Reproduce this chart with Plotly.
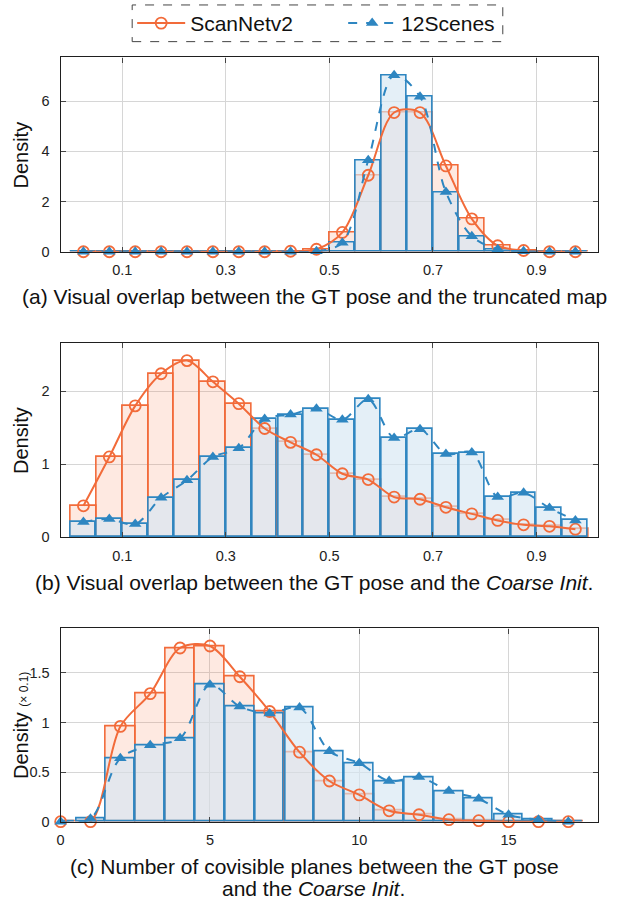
import plotly.graph_objects as go

# ---------------- data ----------------
bins_ab = [0.025, 0.075, 0.125, 0.175, 0.225, 0.275, 0.325, 0.375, 0.425, 0.475,
           0.525, 0.575, 0.625, 0.675, 0.725, 0.775, 0.825, 0.875, 0.925, 0.975]
scannet_a = [0, 0, 0, 0, 0, 0, 0, 0, 0.02, 0.10, 0.77, 3.05, 5.55, 5.55, 3.42, 1.31, 0.24, 0.05, 0, 0]
scenes_a = [0, 0, 0, 0, 0, 0, 0, 0, 0, 0.02, 0.36, 3.65, 7.04, 6.18, 2.38, 0.62, 0.10, 0.02, 0, 0]

scannet_b = [0.43, 1.10, 1.80, 2.24, 2.42, 2.13, 1.83, 1.49, 1.30, 1.13,
             0.87, 0.79, 0.55, 0.52, 0.41, 0.32, 0.23, 0.17, 0.15, 0.11]
scenes_b = [0.21, 0.25, 0.18, 0.54, 0.78, 1.10, 1.22, 1.62, 1.68, 1.76,
            1.61, 1.89, 1.36, 1.48, 1.14, 1.16, 0.55, 0.61, 0.40, 0.23]

bins_c = [0, 1, 2, 3, 4, 5, 6, 7, 8, 9, 10, 11, 12, 13, 14, 15, 16, 17]
scannet_c = [0, 0, 0.96, 1.29, 1.75, 1.77, 1.46, 1.11, 0.70, 0.41, 0.27, 0.11, 0.07, 0.02, 0.01, 0, 0, 0]
scenes_c = [0, 0.03, 0.64, 0.77, 0.84, 1.38, 1.16, 1.09, 1.15, 0.71, 0.59, 0.41, 0.45, 0.31, 0.23, 0.07, 0.02, 0]

xticks_ab = [0.1, 0.3, 0.5, 0.7, 0.9]
xticks_c = [0, 5, 10, 15]
yticks_a = [0, 2, 4, 6]
yticks_b = [0, 1, 2]
yticks_c = [0, 0.5, 1, 1.5]

captions = [
    "(a) Visual overlap between the GT pose and the truncated map",
    "(b) Visual overlap between the GT pose and the <i>Coarse Init</i>.",
    "(c) Number of covisible planes between the GT pose",
    "and the <i>Coarse Init</i>.",
]
names = ["ScanNetv2", "12Scenes"]

# ---------------- style ----------------
W, H = 624, 909
FONT = "Liberation Sans, Arial, sans-serif"
ORANGE = "#f26b3a"
BLUE = "#2e86c1"
ORANGE_FILL = "rgba(246,120,70,0.16)"
BLUE_FILL = "rgba(213,230,243,0.65)"

def px_x(p):
    return p / W

def px_y(p):
    return 1 - p / H

# plot area pixel boxes (left, right, top, bottom)
boxes = [(57, 598, 58, 254), (57, 598, 346, 542), (57, 598, 634, 829)]

fig = go.Figure()

panels = [
    (bins_ab, scannet_a, scenes_a, 0.05, 0.048),
    (bins_ab, scannet_b, scenes_b, 0.05, 0.048),
    (bins_c, scannet_c, scenes_c, 1.0, 0.96),
]

for i, (xs, s1, s2, w1, w2) in enumerate(panels):
    xa = "x" if i == 0 else f"x{i+1}"
    ya = "y" if i == 0 else f"y{i+1}"
    fig.add_trace(go.Bar(x=xs, y=s1, width=w1, xaxis=xa, yaxis=ya,
                         marker=dict(color=ORANGE_FILL, line=dict(color=ORANGE, width=1.6)),
                         showlegend=False, hoverinfo="skip"))
    fig.add_trace(go.Bar(x=xs, y=s2, width=w2, xaxis=xa, yaxis=ya,
                         marker=dict(color=BLUE_FILL, line=dict(color=BLUE, width=1.6)),
                         showlegend=False, hoverinfo="skip"))
    fig.add_trace(go.Scatter(x=xs, y=s1, xaxis=xa, yaxis=ya, mode="lines+markers",
                             name=names[0], showlegend=(i == 0), cliponaxis=False,
                             line=dict(color=ORANGE, width=2, shape="spline", smoothing=0.9),
                             marker=dict(symbol="circle-open", size=11, color=ORANGE,
                                         line=dict(width=1.8, color=ORANGE))))
    fig.add_trace(go.Scatter(x=xs, y=s2, xaxis=xa, yaxis=ya, mode="lines+markers",
                             name=names[1], showlegend=(i == 0), cliponaxis=False,
                             line=dict(color=BLUE, width=2, dash="dash", shape="spline", smoothing=0.9),
                             marker=dict(symbol="triangle-up", size=11, color=BLUE)))

ymaxes = [1.1 * max(scenes_a), 1.1 * max(scannet_b), 1.1 * max(scannet_c)]
xranges = [[-0.019, 1.019], [-0.019, 1.019], [0, 18]]
xtick_sets = [xticks_ab, xticks_ab, xticks_c]
ytick_sets = [yticks_a, yticks_b, yticks_c]

axis_common = dict(showgrid=True, gridcolor="#d6d6d6", gridwidth=1, zeroline=False,
                   showline=True, linecolor="#1f1f1f", linewidth=1.2, mirror="ticks",
                   ticks="inside", ticklen=5, tickcolor="#444", tickwidth=1,
                   tickfont=dict(family=FONT, size=14.5, color="#222"))

layout_axes = {}
for i, (l, r, t, b) in enumerate(boxes):
    sx = "" if i == 0 else str(i + 1)
    layout_axes[f"xaxis{sx}"] = dict(axis_common, domain=[px_x(l), px_x(r)], range=xranges[i],
                                     tickvals=xtick_sets[i], anchor=f"y{sx}", ticklabelstandoff=5)
    layout_axes[f"yaxis{sx}"] = dict(axis_common, domain=[px_y(b), px_y(t)], range=[0, ymaxes[i]],
                                     tickvals=ytick_sets[i], anchor=f"x{sx}", ticklabelstandoff=7)

annotations = []
# y-axis titles
for i, (l, r, t, b) in enumerate(boxes):
    txt = "Density" if i < 2 else "Density <span style='font-size:12px'>(× 0.1)</span>"
    annotations.append(dict(x=px_x(17), y=px_y((t + b) / 2), xref="paper", yref="paper",
                            text=txt, textangle=-90, showarrow=False, xanchor="center",
                            yanchor="middle", font=dict(family=FONT, size=20, color="#111")))
# captions
cap_pos = [(312, 299.5), (312, 588), (312, 874), (311, 896)]
for txt, (cx, cy) in zip(captions, cap_pos):
    annotations.append(dict(x=px_x(cx), y=px_y(cy), xref="paper", yref="paper", text=txt,
                            showarrow=False, xanchor="center", yanchor="middle",
                            font=dict(family=FONT, size=21, color="#111")))

fig.update_layout(
    width=W, height=H, margin=dict(l=0, r=0, t=0, b=0),
    paper_bgcolor="white", plot_bgcolor="white",
    barmode="overlay", bargap=0,
    font=dict(family=FONT, color="#111"),
    annotations=annotations,
    shapes=[dict(type="rect", xref="paper", yref="paper", x0=px_x(129), x1=px_x(502),
                 y0=px_y(42), y1=px_y(5), line=dict(color="#444", width=1, dash="dash"))],
    legend=dict(orientation="h", x=px_x(129), y=px_y(3), xanchor="left", yanchor="top",
                font=dict(family=FONT, size=21, color="#111"), bgcolor="rgba(0,0,0,0)",
                entrywidth=148, entrywidthmode="pixels", itemwidth=48),
    **layout_axes,
)

fig.write_html("out.html")
